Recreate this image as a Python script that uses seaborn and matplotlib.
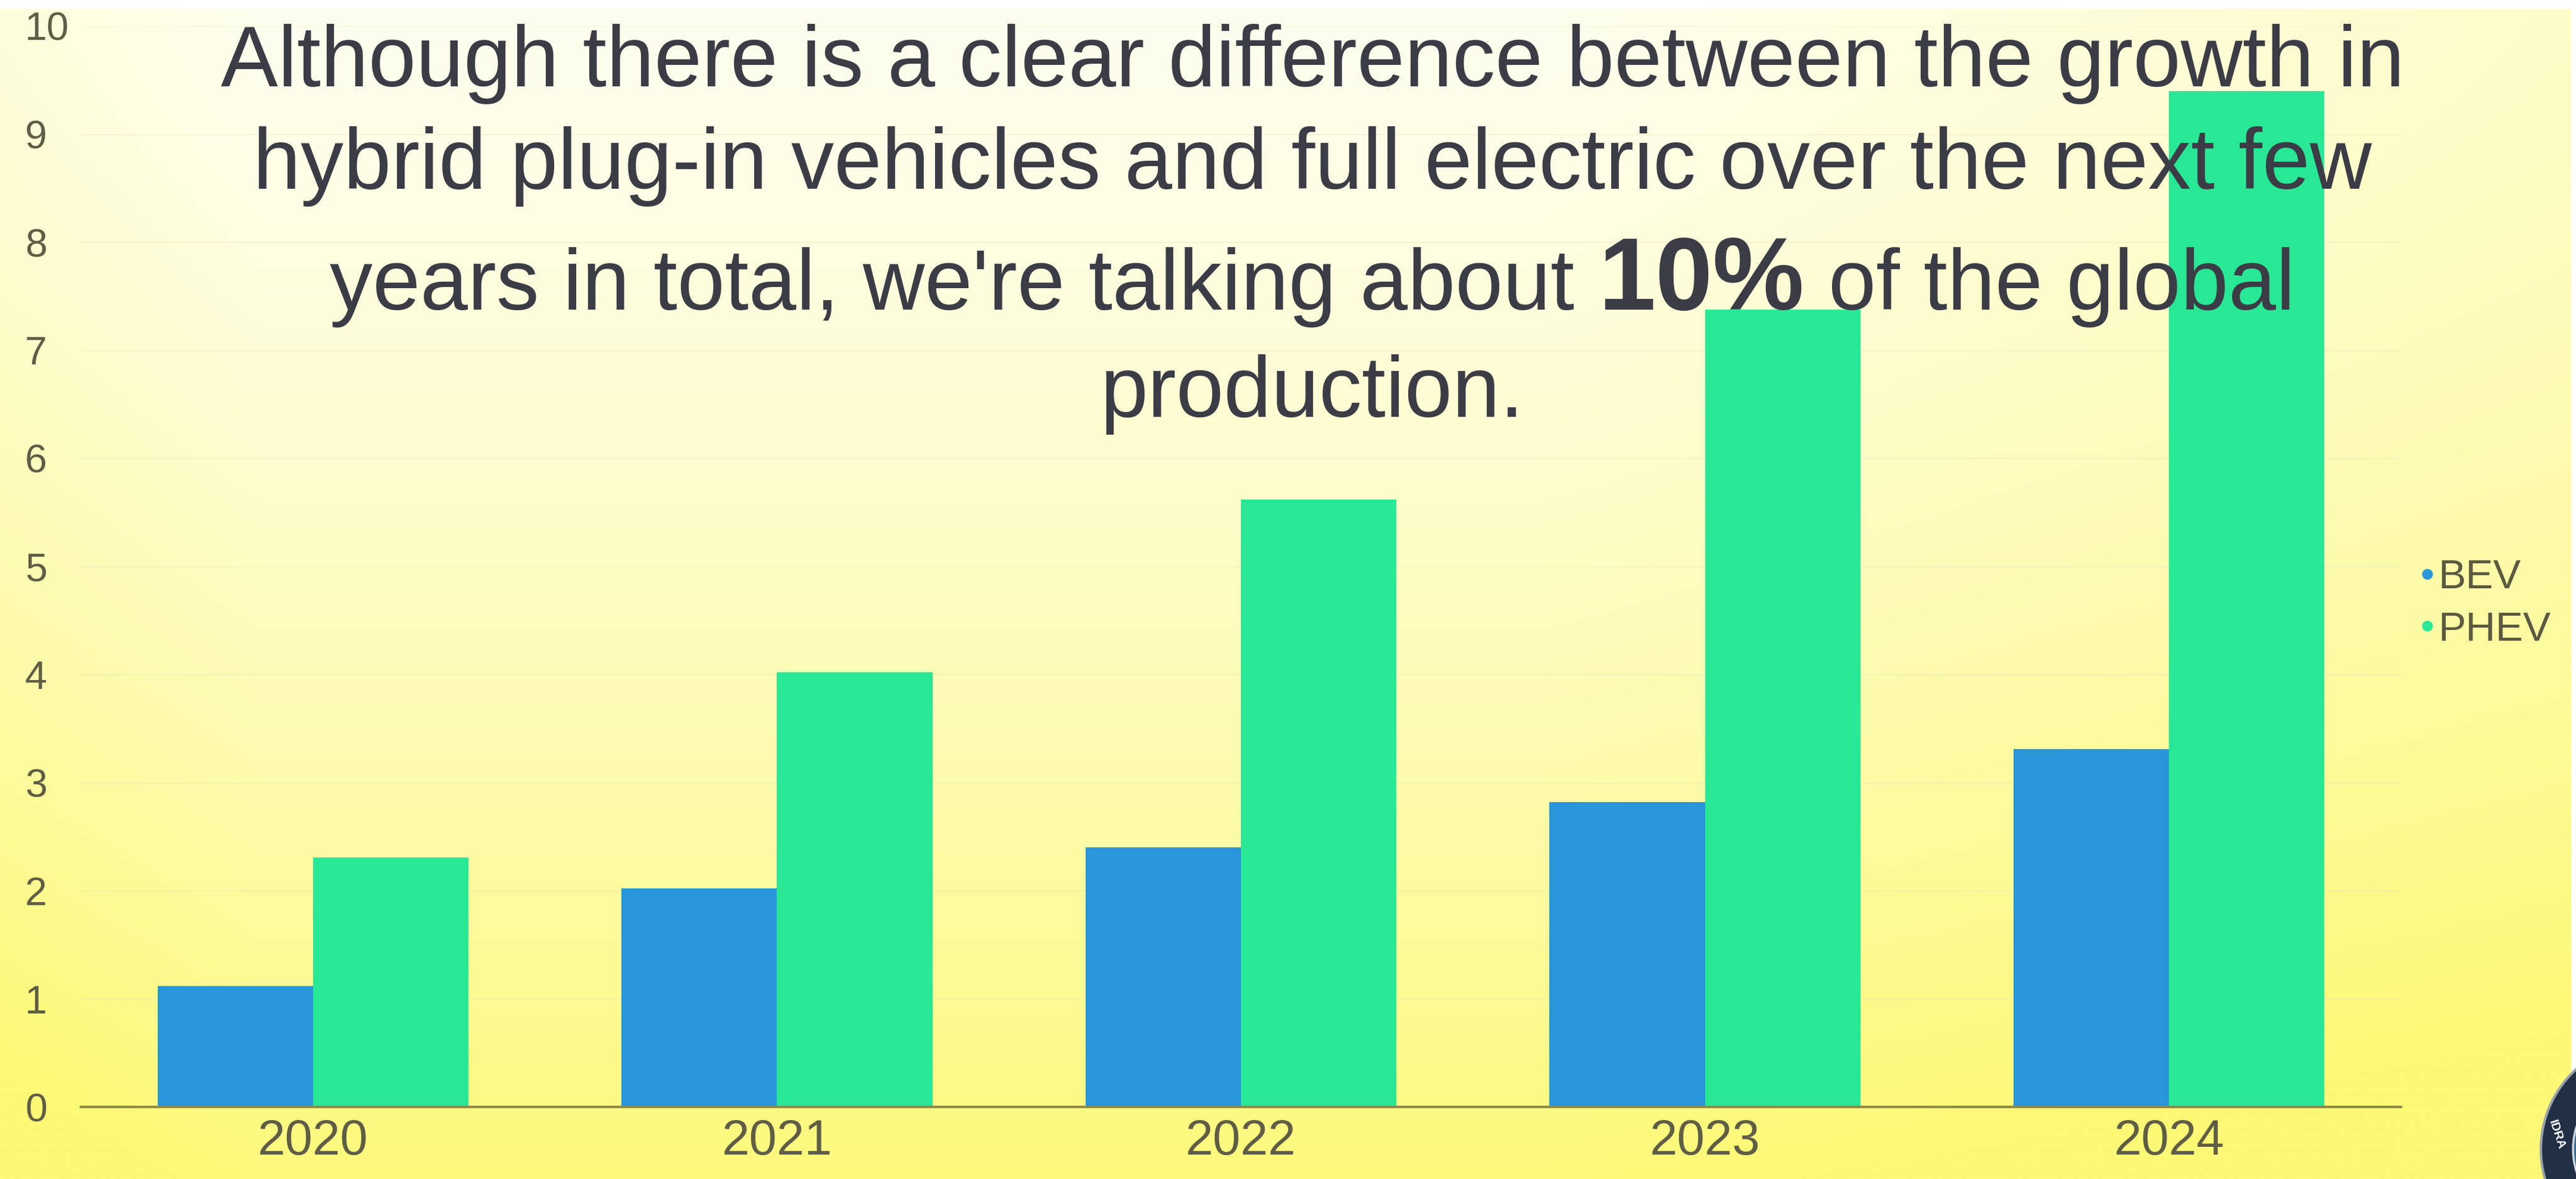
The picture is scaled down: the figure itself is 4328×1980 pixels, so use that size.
import numpy as np
import pandas as pd
import matplotlib
matplotlib.use("Agg")
import matplotlib.pyplot as plt
from matplotlib.lines import Line2D
from matplotlib.patches import Circle
import seaborn as sns

# ---- data -------------------------------------------------------------
years = ["2020", "2021", "2022", "2023", "2024"]
bev_values = [1.12, 2.02, 2.40, 2.82, 3.31]
phev_values = [2.31, 4.02, 5.62, 7.38, 9.40]
series_names = ["BEV", "PHEV"]
series_colors = ["#2896d9", "#28e896"]
y_tick_values = list(range(0, 11))

headline_lines = [
    "Although there is a clear difference between the growth in",
    "hybrid plug-in vehicles and full electric over the next few",
]
headline_pre = "years in total, we're talking about"
headline_bold = "10%"
headline_post = "of the global"
headline_last = "production."

# ---- styling ----------------------------------------------------------
sns.set_style("white")
plt.rcParams["font.family"] = ["Liberation Sans", "DejaVu Sans"]

W, H, DPI = 4328, 1980, 100
fig = plt.figure(figsize=(W / DPI, H / DPI), dpi=DPI, facecolor="white")

# background layer in pixel coordinates
bg = fig.add_axes([0, 0, 1, 1], zorder=-10)
bg.set_xlim(0, W)
bg.set_ylim(H, 0)
bg.axis("off")

gh, gw = 220, 440
v = np.linspace(0, 1, gh)[:, None]
u = np.linspace(0, 1, gw)[None, :]
t = 0.04 + 0.92 * v ** 1.35 \
    + 0.30 * np.clip((u - 0.6) / 0.4, 0, 1) * (1 - 0.4 * v) \
    + 0.15 * np.clip((0.10 - u) / 0.10, 0, 1)
t = np.clip(t, 0, 1)[..., None]
c_light = np.array([254, 254, 243]) / 255
c_yellow = np.array([252, 249, 118]) / 255
grad = c_light * (1 - t) + c_yellow * t
bg.imshow(grad, extent=[0, 4320, H, 15], aspect="auto",
          interpolation="bilinear", zorder=0)

# badge in the lower right corner
bg.add_patch(Circle((4451, 1930), 182, facecolor="#223044",
                    edgecolor="#9aa2ac", lw=3, zorder=2))
bg.add_patch(Circle((4451, 1930), 128, facecolor="#3b6a92",
                    edgecolor="#cfd6dd", lw=2.5, zorder=3))
bg.text(4296, 1905, "IDRA", color="white", fontsize=15, fontweight="bold",
        rotation=-72, ha="center", va="center", zorder=4)

# ---- chart ------------------------------------------------------------
ax = fig.add_axes([136 / W, 121 / H, (4034 - 136) / W, (1859 - 44) / H])
ax.patch.set_visible(False)

df = pd.DataFrame({
    "year": years * 2,
    "value": bev_values + phev_values,
    "type": [series_names[0]] * len(years) + [series_names[1]] * len(years),
})
sns.barplot(data=df, x="year", y="value", hue="type", order=years,
            hue_order=series_names, palette=series_colors, width=0.67,
            saturation=1, legend=False, ax=ax, zorder=3,
            linewidth=0, edgecolor="none")

ax.set_xlim(-0.5, len(years) - 0.5)
ax.set_ylim(0, 10)
ax.set_xlabel("")
ax.set_ylabel("")

# faint horizontal guides
for yv in y_tick_values[1:]:
    ax.axhline(yv, color="#ece8bc", lw=1.5, alpha=0.45, zorder=1)

axis_color = "#8e8a48"
label_color = "#5f5d45"
for side in ["top", "right", "left"]:
    ax.spines[side].set_visible(False)
ax.spines["bottom"].set_color(axis_color)
ax.spines["bottom"].set_linewidth(3)
ax.spines["bottom"].set_zorder(4)

ax.set_yticks(y_tick_values)
ax.set_yticklabels([str(y) for y in y_tick_values])
ax.tick_params(axis="y", length=0, pad=67.7, labelsize=48, labelcolor=label_color)
plt.setp(ax.get_yticklabels(), ha="left")

ax.set_xticks(range(len(years)))
ax.set_xticklabels(years)
ax.tick_params(axis="x", which="major", length=0, pad=14, labelsize=60,
               labelcolor=label_color)
ax.set_xticks(np.arange(-0.5, len(years), 1.0), minor=True)
ax.tick_params(axis="x", which="minor", length=9, width=2, color=axis_color,
               direction="out")

handles = [Line2D([], [], marker="o", ls="", color=c, markersize=12)
           for c in series_colors]
ax.legend(handles, series_names, loc="center left",
          bbox_to_anchor=(4062 / W, 1 - 1014 / H), bbox_transform=fig.transFigure,
          frameon=False, fontsize=50, handletextpad=0.05, handlelength=0.45,
          labelspacing=0.34, borderpad=0, borderaxespad=0,
          labelcolor="#5b5a40")

# ---- headline ---------------------------------------------------------
text_color = "#3c3c46"
fs = 103.6
fs_bold = 124.5
cx = 2205
baselines = [145, 317, 520, 700]

for line, yb in zip(headline_lines, baselines[:2]):
    fig.text(cx, yb, line, transform=bg.transData, ha="center", va="baseline",
             fontsize=fs, color=text_color)

renderer = fig.canvas.get_renderer()
ta = fig.text(0, baselines[2], headline_pre, transform=bg.transData,
              ha="left", va="baseline", fontsize=fs, color=text_color)
tb = fig.text(0, baselines[2], headline_bold, transform=bg.transData,
              ha="left", va="baseline", fontsize=fs_bold, fontweight="bold",
              color=text_color)
tc = fig.text(0, baselines[2], headline_post, transform=bg.transData,
              ha="left", va="baseline", fontsize=fs, color=text_color)
wa = ta.get_window_extent(renderer).width
wb = tb.get_window_extent(renderer).width
wc = tc.get_window_extent(renderer).width
gap = 0.278 * fs * DPI / 72
total = wa + gap + wb + gap + wc
x0 = cx - total / 2
ta.set_x(x0)
tb.set_x(x0 + wa + gap)
tc.set_x(x0 + wa + gap + wb + gap)

fig.text(cx, baselines[3], headline_last, transform=bg.transData,
         ha="center", va="baseline", fontsize=fs, color=text_color)

fig.savefig("out.png", dpi=DPI, facecolor="white")
